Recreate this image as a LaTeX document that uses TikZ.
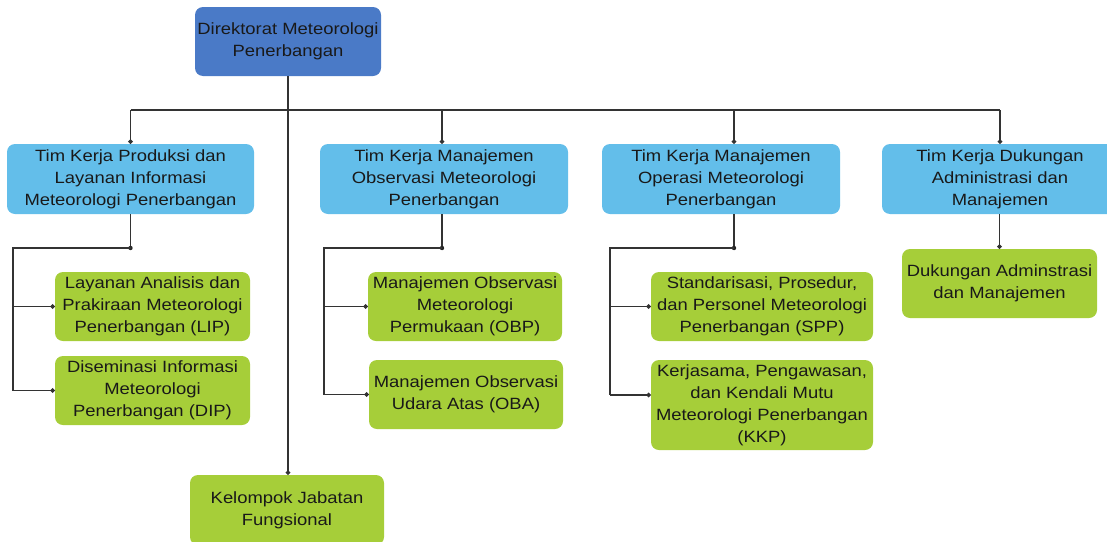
\documentclass[tikz,border=0pt]{standalone}
\usepackage{fontspec}
\setmainfont{Liberation Sans}[FakeStretch=1.13]
\usetikzlibrary{arrows.meta}
\definecolor{dirblue}{HTML}{4A7AC7}
\definecolor{tkblue}{HTML}{63BEEA}
\definecolor{grn}{HTML}{A6CE39}
\begin{document}
\begin{tikzpicture}[x=1pt,y=-1pt,
  box/.style={rounded corners=8pt, align=center, inner sep=0pt, text=black!90,
    font=\fontsize{16.3}{22}\selectfont},
  dirbox/.style={box, fill=dirblue},
  tkbox/.style={box, fill=tkblue, minimum height=70pt},
  subbox/.style={box, fill=grn, minimum height=69pt},
  conn/.style={draw=black!80, line width=1.3pt},
  dotend/.style={-{Circle[length=4.5pt]}},
  jdot/.style={fill=black!85},
]
\useasboundingbox (0,0) rectangle (1107,541);

% nodes
\node[dirbox, minimum width=186pt, minimum height=69pt] (dir) at (288,41.5) {Direktorat Meteorologi\\Penerbangan};

\node[tkbox, minimum width=247pt] (b1) at (130.5,179) {Tim Kerja Produksi dan\\Layanan Informasi\\Meteorologi Penerbangan};
\node[tkbox, minimum width=248pt] (b2) at (444,179) {Tim Kerja Manajemen\\Observasi Meteorologi\\Penerbangan};
\node[tkbox, minimum width=238pt] (b3) at (721,179) {Tim Kerja Manajemen\\Operasi Meteorologi\\Penerbangan};
\node[tkbox, minimum width=236pt] (b4) at (1000,179) {Tim Kerja Dukungan\\Administrasi dan\\Manajemen};

\node[subbox, minimum width=195pt] (g1) at (152.5,306.5) {Layanan Analisis dan\\Prakiraan Meteorologi\\Penerbangan (LIP)};
\node[subbox, minimum width=195pt] (g2) at (152.5,390.5) {Diseminasi Informasi\\Meteorologi\\Penerbangan (DIP)};
\node[subbox, minimum width=194pt] (g3) at (465,306.5) {Manajemen Observasi\\Meteorologi\\Permukaan (OBP)};
\node[subbox, minimum width=194pt] (g4) at (466,394.5) {Manajemen Observasi\\Udara Atas (OBA)};
\node[subbox, minimum width=222pt] (g5) at (762,306.5) {Standarisasi, Prosedur,\\dan Personel Meteorologi\\Penerbangan (SPP)};
\node[subbox, minimum width=222pt, minimum height=90pt] (g6) at (762,405) {Kerjasama, Pengawasan,\\dan Kendali Mutu\\Meteorologi Penerbangan\\(KKP)};
\node[subbox, minimum width=195pt] (g7) at (999.5,283.5) {Dukungan Adminstrasi\\dan Manajemen};
\node[subbox, minimum width=194pt, minimum height=70pt] (kel) at (287,510) {Kelompok Jabatan\\Fungsional};

% helper coordinates
\coordinate (busy) at (0,110);
\coordinate (juny) at (0,248);
\coordinate (x2) at (442,0);
\coordinate (x3) at (734,0);
\coordinate (l1) at (13,0);
\coordinate (l2) at (324,0);
\coordinate (l3) at (610,0);
\coordinate (y6) at (0,395);

% trunk
\draw[conn, dotend] (dir.south) -- (dir.south |- kel.north);

% bus
\draw[conn] (b1.north |- busy) -- (b4.north |- busy);
\draw[conn, dotend] (b1.north |- busy) -- (b1.north);
\draw[conn, dotend] (x2 |- busy) -- (x2 |- b2.north);
\draw[conn, dotend] (x3 |- busy) -- (x3 |- b3.north);
\draw[conn, dotend] (b4.north |- busy) -- (b4.north);

% group 1
\coordinate (j1) at (b1.south |- juny);
\draw[conn] (b1.south) -- (j1);
\fill[jdot] (j1) circle (2.2pt);
\draw[conn] (j1) -- (l1 |- juny) -- (l1 |- g2.west);
\draw[conn, dotend] (l1 |- g1.west) -- (g1.west);
\draw[conn, dotend] (l1 |- g2.west) -- (g2.west);

% group 2
\coordinate (j2) at (x2 |- juny);
\draw[conn] (x2 |- b2.south) -- (j2);
\fill[jdot] (j2) circle (2.2pt);
\draw[conn] (j2) -- (l2 |- juny) -- (l2 |- g4.west);
\draw[conn, dotend] (l2 |- g3.west) -- (g3.west);
\draw[conn, dotend] (l2 |- g4.west) -- (g4.west);

% group 3
\coordinate (j3) at (x3 |- juny);
\draw[conn] (x3 |- b3.south) -- (j3);
\fill[jdot] (j3) circle (2.2pt);
\draw[conn] (j3) -- (l3 |- juny) -- (l3 |- y6);
\draw[conn, dotend] (l3 |- g5.west) -- (g5.west);
\draw[conn, dotend] (l3 |- y6) -- (g6.west |- y6);

% group 4
\draw[conn, dotend] (g7.north |- b4.south) -- (g7.north);
\end{tikzpicture}
\end{document}
